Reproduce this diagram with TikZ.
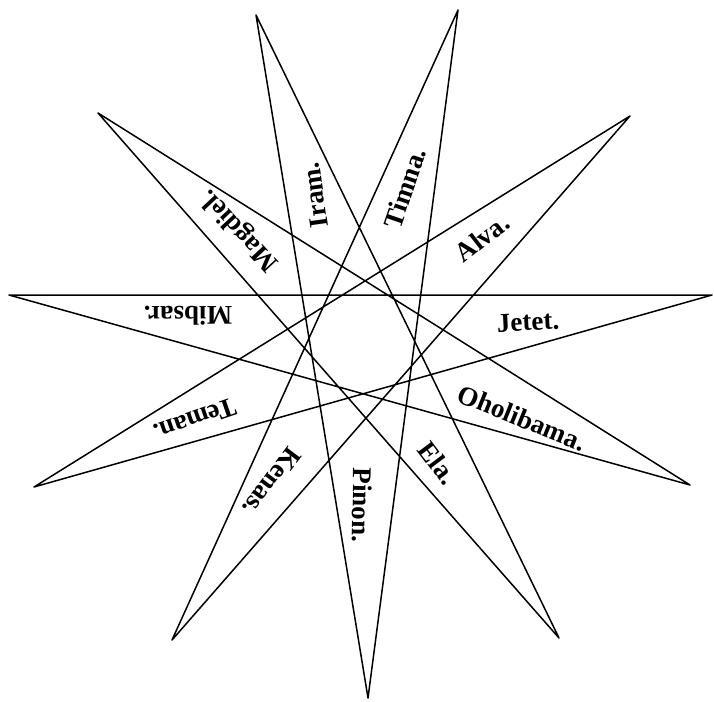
\documentclass[tikz,border=0pt]{standalone}
\usepackage{fontspec}
\setmainfont{Liberation Serif}
\begin{document}
\begin{tikzpicture}[
    x=1pt, y=-1pt,
    starline/.style={line width=1.5pt, line join=round},
    chief/.style={font=\fontsize{27}{27}\selectfont\bfseries, inner sep=0pt}
]
\useasboundingbox (0,0) rectangle (714,701);

% Tips of the star, clockwise from the upper left
\foreach \i/\x/\y in {0/256/15, 1/458/10, 2/630/116, 3/712/295, 4/690/485,
                      5/559/638, 6/368/698, 7/172/640, 8/34/487, 9/9/295, 10/98/113}
    \coordinate (v\i) at (\x,\y);

% Eleven-pointed star {11/5}
\draw[starline] (v0) -- (v5) -- (v10) -- (v4) -- (v9) -- (v3) -- (v8)
    -- (v2) -- (v7) -- (v1) -- (v6) -- cycle;

% Names in the spikes
\foreach \n/\x/\y/\a/\txt in {iram/315/195/98/Iram., timna/405/188/71/Timna.,
        alva/482/238/38/Alva., jetet/528/322/3/Jetet.,
        oholibama/522/418/-22/Oholibama., ela/438/463/-53/Ela.,
        pinon/362/505/-91/Pinon., kenas/272/482/-127/Kenas.,
        teman/195/420/199/Teman., mibsar/188/316/180/Mibsar.,
        magdiel/240/230/133/Magdiel.}
    \node[chief, rotate=\a] (\n) at (\x,\y) {\txt};
\end{tikzpicture}
\end{document}
